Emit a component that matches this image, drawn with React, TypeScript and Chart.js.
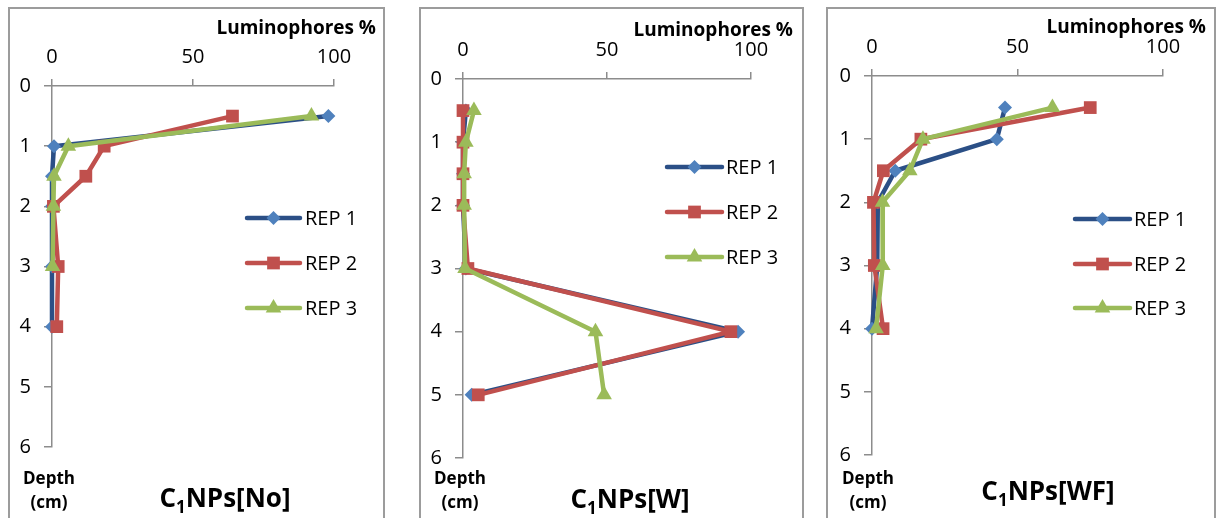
import React, { useEffect, useRef } from 'react';
import { Chart, registerables } from 'chart.js';

Chart.register(...registerables);

// ---------- data ----------
const xTicks = [0, 50, 100];
const yTicks = [0, 1, 2, 3, 4, 5, 6];
const seriesNames = ['REP 1', 'REP 2', 'REP 3'];
const xAxisTitle = 'Luminophores %';
const yAxisTitle = ['Depth', '(cm)'];

// Panel C1NPs[No]
const noDepth = [0.5, 1, 1.5, 2, 3, 4];
const noRep1 = [98, 0.7, 0, 0, 0, 0];
const noRep2 = [64, 18.5, 12, 0.5, 2.2, 1.7];
const noRep3Depth = [0.5, 1, 1.5, 2, 3];
const noRep3 = [92, 5.8, 0.7, 0.5, 0.2];

// Panel C1NPs[W]
const wDepth = [0.5, 1, 1.5, 2, 3, 4, 5];
const wRep1 = [1, 0, 0, 0, 1, 95.5, 3];
const wRep2 = [0, 0, 0, 0, 1.7, 93, 5.3];
const wRep3 = [3.8, 1, 0.4, 0.4, 0.7, 46, 49];

// Panel C1NPs[WF]
const wfDepth = [0.5, 1, 1.5, 2, 3, 4];
const wfRep1 = [45.7, 42.9, 8, 2, 1.8, 0];
const wfRep2 = [75, 16.8, 3.9, 0.5, 0.8, 3.8];
const wfRep3 = [62, 17.5, 13, 3.6, 3.7, 1.4];

// ---------- styles ----------
const FONT = '"Open Sans", "DejaVu Sans", sans-serif';
const AXIS_COLOR = '#8C8C8C';
const LINE_W = 4.5;
const seriesStyle = [
  { line: '#2B4F86', marker: '#4F81BD', shape: 'rectRot', radius: 7 },
  { line: '#C0504D', marker: '#C0504D', shape: 'rect', radius: 9 },
  { line: '#9BBB59', marker: '#9BBB59', shape: 'triangle', radius: 9 },
];

type Panel = {
  name: string;
  sub: string;
  series: { depth: number[]; vals: number[] }[];
  box: { left: number; width: number };
  area: { left: number; top: number; right: number; bottom: number };
  legend: { x0: number; x1: number; tx: number; ys: number[] };
  lumTop: number; lumRight: number;
  titleCx: number; titleTop: number;
  depthCx: number;
};

const panels: Panel[] = [
  {
    name: 'No', sub: '1',
    series: [
      { depth: noDepth, vals: noRep1 },
      { depth: noDepth, vals: noRep2 },
      { depth: noRep3Depth, vals: noRep3 },
    ],
    box: { left: 8, width: 377 },
    area: { left: 52, top: 86, right: 334, bottom: 447 },
    legend: { x0: 247, x1: 300, tx: 305, ys: [218, 263, 308] },
    lumTop: 18, lumRight: 376,
    titleCx: 225, titleTop: 484,
    depthCx: 49,
  },
  {
    name: 'W', sub: '1',
    series: [
      { depth: wDepth, vals: wRep1 },
      { depth: wDepth, vals: wRep2 },
      { depth: wDepth, vals: wRep3 },
    ],
    box: { left: 419, width: 385 },
    area: { left: 463, top: 79, right: 751, bottom: 458 },
    legend: { x0: 667, x1: 722, tx: 726, ys: [167, 212, 257] },
    lumTop: 20, lumRight: 793,
    titleCx: 630, titleTop: 485,
    depthCx: 460,
  },
  {
    name: 'WF', sub: '1',
    series: [
      { depth: wfDepth, vals: wfRep1 },
      { depth: wfDepth, vals: wfRep2 },
      { depth: wfDepth, vals: wfRep3 },
    ],
    box: { left: 826, width: 390 },
    area: { left: 872, top: 76, right: 1163, bottom: 455 },
    legend: { x0: 1075, x1: 1130, tx: 1134, ys: [219, 264, 308] },
    lumTop: 17, lumRight: 1206,
    titleCx: 1048, titleTop: 477,
    depthCx: 868,
  },
];

const PANEL_TOP = 7;
const BORDER = 2;
const CANVAS_TOP = PANEL_TOP + BORDER;
const CANVAS_H = 518 - CANVAS_TOP;

function drawMarker(ctx: CanvasRenderingContext2D, shape: string, x: number, y: number, r: number, color: string) {
  ctx.save();
  ctx.fillStyle = color;
  ctx.beginPath();
  if (shape === 'rectRot') {
    ctx.moveTo(x, y - r);
    ctx.lineTo(x + r, y);
    ctx.lineTo(x, y + r);
    ctx.lineTo(x - r, y);
  } else if (shape === 'rect') {
    const s = r * Math.SQRT1_2;
    ctx.rect(x - s, y - s, 2 * s, 2 * s);
  } else {
    const w = r * Math.sqrt(3) / 2;
    ctx.moveTo(x, y - r);
    ctx.lineTo(x + w, y + r / 2);
    ctx.lineTo(x - w, y + r / 2);
  }
  ctx.closePath();
  ctx.fill();
  ctx.restore();
}

function PanelChart({ p }: { p: Panel }) {
  const ref = useRef<HTMLCanvasElement>(null);
  const canvasLeft = p.box.left + BORDER;
  const canvasW = p.box.width - 2 * BORDER;

  useEffect(() => {
    if (!ref.current) return;
    const top = p.area.top - CANVAS_TOP;
    const left = p.area.left - canvasLeft;
    const padRight = canvasW - (p.area.right - canvasLeft);
    const padBottom = CANVAS_H - (p.area.bottom - CANVAS_TOP);

    const datasets = p.series.map((s, i) => ({
      label: seriesNames[i],
      data: s.depth.map((d, j) => ({ x: s.vals[j], y: d })),
      borderColor: seriesStyle[i].line,
      backgroundColor: seriesStyle[i].marker,
      pointBackgroundColor: seriesStyle[i].marker,
      pointBorderColor: seriesStyle[i].marker,
      pointBorderWidth: 0,
      pointStyle: seriesStyle[i].shape,
      pointRadius: seriesStyle[i].radius,
      borderWidth: LINE_W,
      borderJoinStyle: 'round' as const,
      borderCapStyle: 'round' as const,
      tension: 0,
      clip: false as any,
      order: 3 - i,
    }));

    const legendPlugin = {
      id: 'repLegend',
      afterDatasetsDraw(chart: any) {
        const ctx: CanvasRenderingContext2D = chart.ctx;
        p.legend.ys.forEach((yy, i) => {
          const y = yy - CANVAS_TOP;
          const x0 = p.legend.x0 - canvasLeft;
          const x1 = p.legend.x1 - canvasLeft;
          ctx.save();
          ctx.strokeStyle = seriesStyle[i].line;
          ctx.lineWidth = LINE_W;
          ctx.lineCap = 'round';
          ctx.beginPath();
          ctx.moveTo(x0, y);
          ctx.lineTo(x1, y);
          ctx.stroke();
          ctx.restore();
          drawMarker(ctx, seriesStyle[i].shape, (x0 + x1) / 2, y, seriesStyle[i].radius, seriesStyle[i].marker);
          ctx.save();
          ctx.fillStyle = '#000';
          ctx.font = `20px ${FONT}`;
          ctx.textBaseline = 'middle';
          ctx.textAlign = 'left';
          ctx.fillText(seriesNames[i], p.legend.tx - canvasLeft, y + 1);
          ctx.restore();
        });
      },
    };

    const chart = new Chart(ref.current, {
      type: 'line',
      data: { datasets },
      options: {
        animation: false,
        responsive: false,
        maintainAspectRatio: false,
        layout: { padding: { left: 0, top: 0, right: padRight, bottom: padBottom } },
        plugins: { legend: { display: false }, tooltip: { enabled: false }, title: { display: false } },
        scales: {
          x: {
            type: 'linear',
            position: 'top',
            min: 0,
            max: 100,
            afterBuildTicks: (s: any) => { s.ticks = xTicks.map((v) => ({ value: v })); },
            afterFit: (s: any) => { s.height = top; },
            grid: { drawOnChartArea: false, drawTicks: true, tickLength: 7, color: AXIS_COLOR, lineWidth: 1.5 },
            border: { display: true, color: AXIS_COLOR, width: 1.5 },
            ticks: { color: '#000', font: { family: FONT, size: 20 }, padding: 10, maxRotation: 0, autoSkip: false },
          },
          y: {
            type: 'linear',
            position: 'left',
            reverse: true,
            min: 0,
            max: 6,
            afterBuildTicks: (s: any) => { s.ticks = yTicks.map((v) => ({ value: v })); },
            afterFit: (s: any) => { s.width = left; },
            grid: { drawOnChartArea: false, drawTicks: true, tickLength: 8, color: AXIS_COLOR, lineWidth: 1.5 },
            border: { display: true, color: AXIS_COLOR, width: 1.5 },
            ticks: { color: '#000', font: { family: FONT, size: 20 }, padding: 13, autoSkip: false },
          },
        },
      } as any,
      plugins: [legendPlugin],
    });
    return () => chart.destroy();
  }, []);

  return (
    <>
      <div
        style={{
          position: 'absolute', left: p.box.left, top: PANEL_TOP, width: p.box.width, height: 560,
          boxSizing: 'border-box', border: `${BORDER}px solid #9C9C9C`, background: '#fff',
        }}
      />
      <canvas
        ref={ref}
        width={canvasW}
        height={CANVAS_H}
        style={{ position: 'absolute', left: canvasLeft, top: CANVAS_TOP, width: canvasW, height: CANVAS_H }}
      />
      <div
        style={{
          position: 'absolute', left: 0, width: p.lumRight, top: p.lumTop, textAlign: 'right',
          font: `bold 19px ${FONT}`, lineHeight: '19px', color: '#000', whiteSpace: 'nowrap',
        }}
      >
        {xAxisTitle}
      </div>
      <div
        style={{
          position: 'absolute', left: p.depthCx - 60, width: 120, top: 466, textAlign: 'center',
          font: `bold 17px ${FONT}`, lineHeight: '24px', color: '#000',
        }}
      >
        <div>{yAxisTitle[0]}</div>
        <div>{yAxisTitle[1]}</div>
      </div>
      <div
        style={{
          position: 'absolute', left: p.titleCx - 150, width: 300, top: p.titleTop, textAlign: 'center',
          font: `bold 26px ${FONT}`, lineHeight: '26px', color: '#000', whiteSpace: 'nowrap',
        }}
      >
        C<span style={{ fontSize: '17px', position: 'relative', top: 6 }}>{p.sub}</span>NPs[{p.name}]
      </div>
    </>
  );
}

export default function App() {
  return (
    <div style={{ position: 'fixed', left: 0, top: 0, width: 1219, height: 518, overflow: 'hidden', background: '#fff' }}>
      {panels.map((p) => (
        <PanelChart key={p.name} p={p} />
      ))}
    </div>
  );
}
